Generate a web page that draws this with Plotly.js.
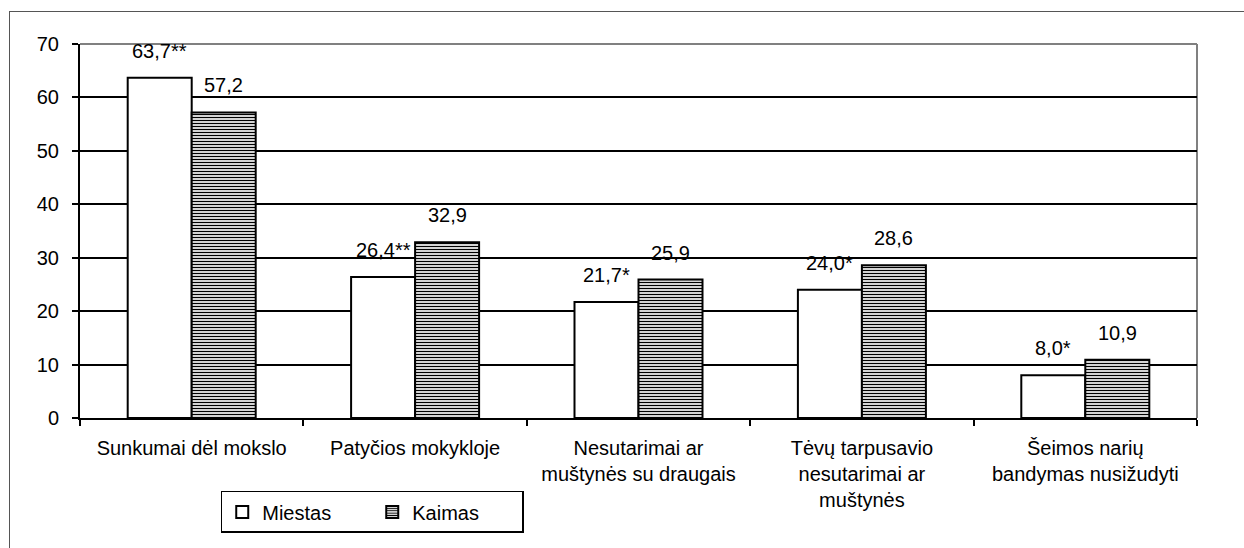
<!DOCTYPE html>
<html>
<head>
<meta charset="utf-8">
<script src="https://cdn.plot.ly/plotly-3.0.1.min.js"></script>
<style>
  html, body { margin: 0; padding: 0; background: #fff; }
  #frame { position: absolute; left: 9px; top: 11px; width: 1300px; height: 600px;
           border-left: 1px solid #555; border-top: 1px solid #555; }
  #chart { position: absolute; left: 0; top: 0; width: 1244px; height: 548px; }
</style>
</head>
<body>
<div id="frame"></div>
<div id="chart"></div>
<script>
const categories = [
  "Sunkumai dėl mokslo",
  "Patyčios mokykloje",
  "Nesutarimai ar<br>muštynės su draugais",
  "Tėvų tarpusavio<br>nesutarimai ar<br>muštynės",
  "Šeimos narių<br>bandymas nusižudyti"
];
const miestas = [63.7, 26.4, 21.7, 24.0, 8.0];
const kaimas = [57.2, 32.9, 25.9, 28.6, 10.9];
const miestasLabels = ["63,7**", "26,4**", "21,7*", "24,0*", "8,0*"];
const kaimasLabels = ["57,2", "32,9", "25,9", "28,6", "10,9"];
const seriesNames = ["Miestas", "Kaimas"];

const FONT = "Liberation Sans, Arial, sans-serif";
const FS = 20;

const traces = [
  {
    type: "bar", name: seriesNames[0], x: categories, y: miestas,
    marker: { color: "#ffffff", line: { color: "#000", width: 2 } },
    hoverinfo: "skip"
  },
  {
    type: "bar", name: seriesNames[1], x: categories, y: kaimas,
    marker: { color: "#ffffff", line: { color: "#000", width: 2 },
      pattern: { shape: "-", fgcolor: "#000", bgcolor: "#fff", size: 3, solidity: 0.45 } },
    hoverinfo: "skip"
  }
];

const annotations = [];
categories.forEach((c, i) => {
  annotations.push({ x: c, y: miestas[i], xref: "x", yref: "y", text: miestasLabels[i],
    showarrow: false, yanchor: "bottom", xshift: -32, yshift: 14,
    font: { family: FONT, size: FS, color: "#000" } });
  annotations.push({ x: c, y: kaimas[i], xref: "x", yref: "y", text: kaimasLabels[i],
    showarrow: false, yanchor: "bottom", xshift: 32, yshift: 14,
    font: { family: FONT, size: FS, color: "#000" } });
});

const layout = {
  width: 1244, height: 548,
  margin: { l: 80, r: 47, t: 44, b: 130 },
  paper_bgcolor: "rgba(0,0,0,0)",
  plot_bgcolor: "#fff",
  font: { family: FONT, size: FS, color: "#000" },
  barmode: "group",
  bargap: 0.427,
  bargroupgap: 0,
  showlegend: true,
  legend: {
    orientation: "h", x: 0.126, y: -0.195, xanchor: "left", yanchor: "top",
    bordercolor: "#000", borderwidth: 1.5, bgcolor: "#fff",
    font: { family: FONT, size: FS, color: "#000" },
    itemwidth: 30, entrywidth: 105, entrywidthmode: "pixels"
  },
  xaxis: {
    type: "category",
    showline: true, linecolor: "#000", linewidth: 2,
    ticks: "outside", tickson: "boundaries", ticklen: 6, tickwidth: 2, tickcolor: "#000",
    ticklabelstandoff: 11,
    showgrid: false, zeroline: false,
    tickfont: { family: FONT, size: FS, color: "#000" }
  },
  yaxis: {
    range: [0, 70], dtick: 10, tick0: 0,
    showline: true, linecolor: "#000", linewidth: 2,
    ticks: "outside", ticklen: 6, tickwidth: 2, tickcolor: "#000",
    ticklabelstandoff: 9,
    showgrid: true, gridcolor: "#000", gridwidth: 2,
    zeroline: false,
    tickfont: { family: FONT, size: FS, color: "#000" }
  },
  shapes: [
    { type: "line", xref: "paper", yref: "paper", x0: 0, x1: 1, y0: 1, y1: 1,
      line: { color: "#808080", width: 2 }, layer: "between" },
    { type: "line", xref: "paper", yref: "paper", x0: 1, x1: 1, y0: 0, y1: 1,
      line: { color: "#808080", width: 2 }, layer: "between" }
  ],
  annotations: annotations
};

Plotly.newPlot("chart", traces, layout, { displayModeBar: false, staticPlot: true });
</script>
</body>
</html>
